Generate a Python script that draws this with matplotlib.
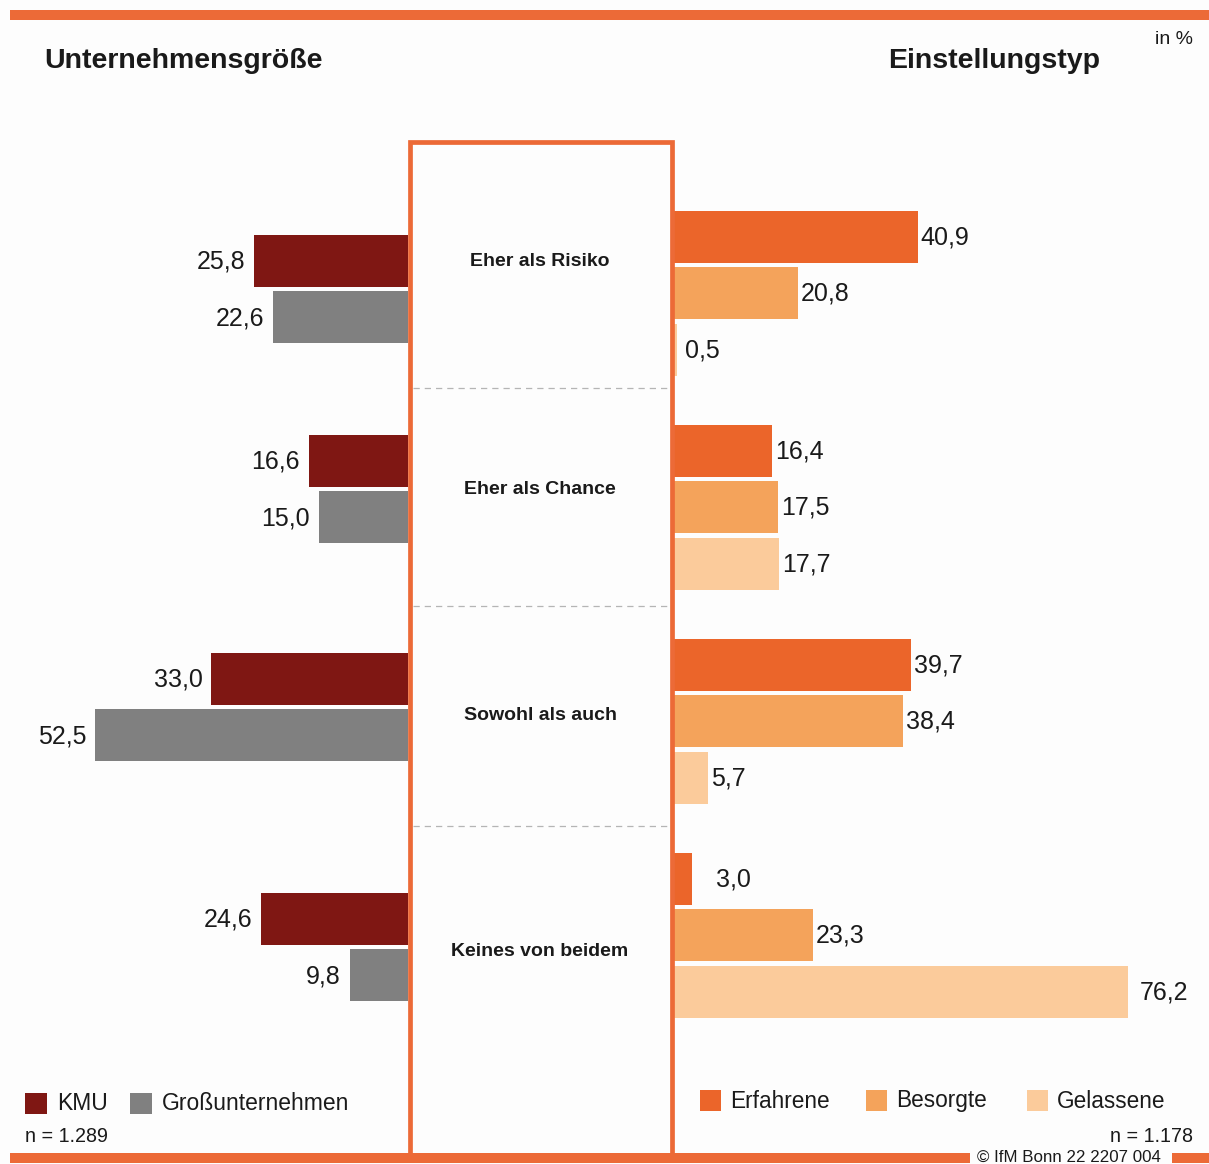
import matplotlib
matplotlib.use('Agg')
from matplotlib import pyplot as plt
from matplotlib.patches import Rectangle
from matplotlib.lines import Line2D

# data
groups = ['Eher als Risiko', 'Eher als Chance', 'Sowohl als auch', 'Keines von beidem']
size_names = ['KMU', 'Großunternehmen']
kmu = [25.8, 16.6, 33.0, 24.6]
gross = [22.6, 15.0, 52.5, 9.8]
type_names = ['Erfahrene', 'Besorgte', 'Gelassene']
erfahrene = [40.9, 16.4, 39.7, 3.0]
besorgte = [20.8, 17.5, 38.4, 23.3]
gelassene = [0.5, 17.7, 5.7, 76.2]
n_left = 'n = 1.289'
n_right = 'n = 1.178'

size_colors = ['#7f1713', '#808080']
type_colors = ['#eb652a', '#f4a35b', '#fbcb9b']
orange = '#ec6a37'
txt = '#1a1a1a'

W, H = 1209, 1164
plt.rcParams['font.family'] = ['Liberation Sans', 'DejaVu Sans']
fig = plt.figure(figsize=(W / 100, H / 100), dpi=100)
fig.patch.set_facecolor('#fdfdfd')


def fx(x):
    return x / W


def fy(y):
    return 1 - y / H


def fig_rect(x0, y0, x1, y1, **kw):
    fig.patches.append(Rectangle((fx(x0), fy(y1)), fx(x1) - fx(x0), fy(y0) - fy(y1),
                                 transform=fig.transFigure, **kw))


# layout (pixel rows)
pitch = 56.5
bar_h = 52
right_centers = [293, 507, 721, 935]
left_centers = [289, 489, 707, 947]
label_centers = [261, 489, 716, 951]
scale = 5.96  # px per percent

# left axis (inverted)
axl = fig.add_axes([fx(10), 0, fx(408) - fx(10), 1])
axl.set_xlim((408 - 10) / scale, 0)
axl.set_ylim(H, 0)
axl.axis('off')
for k, (vals, col) in enumerate(zip([kmu, gross], size_colors)):
    ys = [c + (k - 0.5) * pitch for c in left_centers]
    axl.barh(ys, vals, height=bar_h, color=col)
    for y, v in zip(ys, vals):
        axl.text(v + 1.5, y + 1, f'{v:.1f}'.replace('.', ','), ha='right', va='center',
                 fontsize=18, color=txt)

# right axis
axr = fig.add_axes([fx(674), 0, fx(1205) - fx(674), 1])
axr.set_xlim(0, (1205 - 674) / scale)
axr.set_ylim(H, 0)
axr.axis('off')
for k, (vals, col) in enumerate(zip([erfahrene, besorgte, gelassene], type_colors)):
    ys = [c + (k - 1) * pitch for c in right_centers]
    axr.barh(ys, vals, height=bar_h, color=col)
    for y, v in zip(ys, vals):
        off = 0.5
        if v < 1:
            off = 1.4
        elif v < 5:
            off = 4.1
        elif v > 70:
            off = 2.0
        axr.text(v + off, y + 1, f'{v:.1f}'.replace('.', ','), ha='left', va='center',
                 fontsize=18, color=txt)

# bands
fig_rect(10, 10, W, 20, color=orange, lw=0)
fig_rect(10, 1153, 970, 1163, color=orange, lw=0)
fig_rect(1172, 1153, W, 1163, color=orange, lw=0)

# center box
fig_rect(409.5, 142, 671.5, 1158, fill=False, edgecolor=orange, lw=3.4, zorder=5)
for y in [388, 606, 826]:
    fig.lines.append(Line2D([fx(413), fx(667)], [fy(y), fy(y)], transform=fig.transFigure,
                            color='#b5b5b5', lw=0.9, ls=(0, (5, 4))))
for g, y in zip(groups, label_centers):
    fig.text(fx(540), fy(y), g, ha='center', va='center', fontsize=14,
             fontweight='bold', color=txt)

# titles
fig.text(fx(44), fy(61), 'Unternehmensgröße', ha='left', va='center', fontsize=20.5,
         fontweight='bold', color=txt)
fig.text(fx(1100), fy(61), 'Einstellungstyp', ha='right', va='center', fontsize=20.5,
         fontweight='bold', color=txt)
fig.text(fx(1193), fy(39), 'in %', ha='right', va='center', fontsize=14, color=txt)

# legends
for name, col, xs in zip(size_names, size_colors, [25, 130]):
    fig_rect(xs, 1093, xs + 22, 1114, color=col, lw=0)
    fig.text(fx(xs + 32), fy(1103), name, ha='left', va='center', fontsize=16.5, color=txt)
for name, col, xs in zip(type_names, type_colors, [700, 866, 1027]):
    fig_rect(xs, 1090, xs + 21, 1111, color=col, lw=0)
    fig.text(fx(xs + 30), fy(1101), name, ha='left', va='center', fontsize=16.3, color=txt)
fig.text(fx(25), fy(1136), n_left, ha='left', va='center', fontsize=14.2, color=txt)
fig.text(fx(1193), fy(1136), n_right, ha='right', va='center', fontsize=14.2, color=txt)
fig.text(fx(1069), fy(1157), '© IfM Bonn 22 2207 004', ha='center', va='center',
         fontsize=12.2, color=txt)

fig.savefig('out.png', dpi=100, facecolor=fig.get_facecolor())
